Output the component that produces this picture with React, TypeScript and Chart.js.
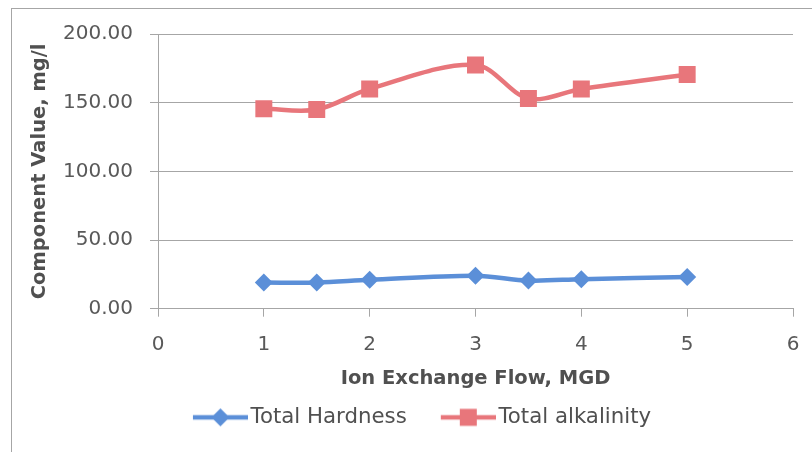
import React, { useEffect, useRef } from 'react';
import { Chart, registerables } from 'chart.js';

Chart.register(...registerables);

// ---- data ----
const flowMGD = [1, 1.5, 2, 3, 3.5, 4, 5];
const totalHardness = [19, 19, 21, 24, 20.5, 21.5, 23];
const totalAlkalinity = [145.5, 145, 160, 177.5, 153, 160, 170.5];
const seriesNames = ['Total Hardness', 'Total alkalinity'];
const xTickValues = [0, 1, 2, 3, 4, 5, 6];
const yTickValues = [0, 50, 100, 150, 200];
const xTitle = 'Ion Exchange Flow, MGD';
const yTitle = 'Component Value, mg/l';

const BLUE = '#5B8FD8';
const RED = '#E8767B';
const FONT = '"DejaVu Sans", sans-serif';

function makeLegendIcon(color: string, kind: 'diamond' | 'square'): HTMLCanvasElement {
  const c = document.createElement('canvas');
  c.width = 87;
  c.height = 22;
  const ctx = c.getContext('2d')!;
  ctx.strokeStyle = color;
  ctx.lineWidth = 4.5;
  ctx.beginPath();
  ctx.moveTo(32, 11);
  ctx.lineTo(87, 11);
  ctx.stroke();
  ctx.fillStyle = color;
  const cx = 59.5;
  if (kind === 'diamond') {
    ctx.beginPath();
    ctx.moveTo(cx, 2);
    ctx.lineTo(cx + 9, 11);
    ctx.lineTo(cx, 20);
    ctx.lineTo(cx - 9, 11);
    ctx.closePath();
    ctx.fill();
  } else {
    ctx.fillRect(cx - 8.5, 2.5, 17, 17);
  }
  return c;
}

const borderPlugin = {
  id: 'outerBorder',
  beforeDraw(chart: any) {
    const { ctx, width, height } = chart;
    ctx.save();
    ctx.fillStyle = '#ffffff';
    ctx.fillRect(0, 0, width, height);
    ctx.strokeStyle = '#A6A6A6';
    ctx.lineWidth = 1;
    ctx.strokeRect(11.5, 8.5, width + 20, height + 20);
    ctx.restore();
  },
};

export default function App() {
  const ref = useRef<HTMLCanvasElement | null>(null);

  useEffect(() => {
    if (!ref.current) return;
    const icons = [makeLegendIcon(BLUE, 'diamond'), makeLegendIcon(RED, 'square')];
    const chart = new Chart(ref.current, {
      type: 'line',
      data: {
        datasets: [
          {
            label: seriesNames[0],
            data: flowMGD.map((x, i) => ({ x, y: totalHardness[i] })),
            borderColor: BLUE,
            backgroundColor: BLUE,
            borderWidth: 4.5,
            tension: 0.33,
            pointStyle: 'rectRot',
            pointRadius: 9,
            pointHoverRadius: 9,
            pointBorderWidth: 0,
          },
          {
            label: seriesNames[1],
            data: flowMGD.map((x, i) => ({ x, y: totalAlkalinity[i] })),
            borderColor: RED,
            backgroundColor: RED,
            borderWidth: 4.5,
            tension: 0.33,
            pointStyle: 'rect',
            pointRadius: 12,
            pointHoverRadius: 12,
            pointBorderWidth: 0,
          },
        ],
      },
      options: {
        animation: false,
        responsive: true,
        maintainAspectRatio: false,
        layout: { padding: { left: 18, right: 10, top: 34, bottom: 14 } },
        plugins: {
          tooltip: { enabled: false },
          legend: {
            position: 'bottom',
            labels: {
              usePointStyle: true,
              pointStyleWidth: 71,
              padding: 10,
              color: '#505050',
              font: { family: FONT, size: 21.3 },
              generateLabels: (c: any) =>
                Chart.defaults.plugins.legend.labels
                  .generateLabels(c)
                  .map((l: any, i: number) => ({ ...l, pointStyle: icons[i] })),
            },
          },
        },
        scales: {
          x: {
            type: 'linear',
            min: 0,
            max: 6,
            afterBuildTicks: (s: any) => {
              s.ticks = xTickValues.map((v) => ({ value: v }));
            },
            afterFit: (s: any) => {
              s.height = 88;
              s.paddingRight = 19;
            },
            grid: { drawOnChartArea: false, drawTicks: true, tickLength: 8, color: '#A6A6A6' },
            border: { display: true, color: '#A6A6A6' },
            ticks: { color: '#595959', font: { family: FONT, size: 20 }, padding: 16, maxRotation: 0 },
            title: {
              display: true,
              text: xTitle,
              color: '#505050',
              font: { family: FONT, size: 19.5, weight: 'bold' },
              padding: { top: 0, bottom: 6 },
            },
          },
          y: {
            type: 'linear',
            min: 0,
            max: 200,
            afterBuildTicks: (s: any) => {
              s.ticks = yTickValues.map((v) => ({ value: v }));
            },
            afterFit: (s: any) => {
              s.width = 140;
            },
            grid: { color: '#A6A6A6', tickLength: 8 },
            border: { display: true, color: '#A6A6A6' },
            ticks: {
              color: '#595959',
              font: { family: FONT, size: 20 },
              padding: 17,
              callback: (v: any) => Number(v).toFixed(2),
            },
            title: {
              display: true,
              text: yTitle,
              color: '#505050',
              font: { family: FONT, size: 19.5, weight: 'bold' },
              padding: { top: 10, bottom: 0 },
            },
          },
        },
      },
      plugins: [borderPlugin],
    });
    return () => chart.destroy();
  }, []);

  return (
    <div style={{ position: 'fixed', left: 0, top: 0, width: 812, height: 452 }}>
      <canvas ref={ref} style={{ display: 'block' }} />
    </div>
  );
}
